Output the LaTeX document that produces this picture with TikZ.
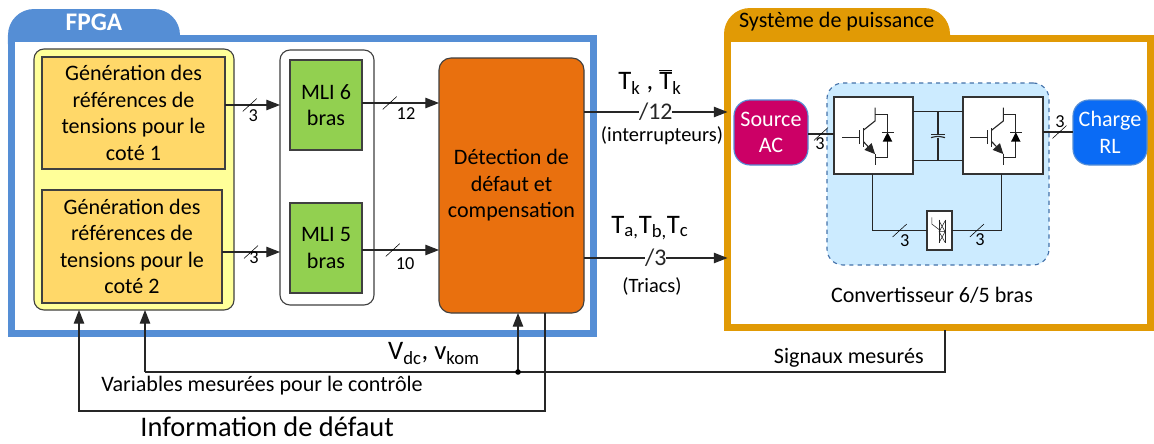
\documentclass[tikz,border=0pt]{standalone}
\usepackage{fontspec}
\setmainfont{Carlito}
\usetikzlibrary{arrows.meta, positioning}

\definecolor{fpgablue}{HTML}{558ED5}
\definecolor{powerorange}{HTML}{E19A05}
\definecolor{genyellow}{HTML}{FFFF99}
\definecolor{genorange}{HTML}{FFD869}
\definecolor{mligreen}{HTML}{92D050}
\definecolor{detectorange}{HTML}{E9700E}
\definecolor{convblue}{HTML}{CCEBFF}
\definecolor{sourcered}{HTML}{CC0066}
\definecolor{chargeblue}{HTML}{0A6BF5}

\begin{document}
\begin{tikzpicture}[
  box/.style = {draw=black!75, thick, anchor=north west, outer sep=0pt, inner sep=0pt, align=center},
  frame/.style = {box, line width=1.75mm},
  txt/.style = {font=\fontsize{15.7}{18.8}\selectfont},
  note/.style = {font=\fontsize{14.5}{16}\selectfont},
  small/.style = {font=\fontsize{13}{14}\selectfont},
  big/.style = {font=\fontsize{19}{20}\selectfont},
  bus/.style = {font=\fontsize{17}{18}\selectfont, fill=white, inner sep=0pt},
  cell/.style = {box, draw=black!80, fill=white},
  line/.style = {thick, black!85},
  arrow/.style = {line, -{Triangle[length=3.4mm, width=2.6mm]}},
  slash/.pic = {\draw[-, thin, black] (-0.175,-0.16) -- (0.175,0.16);},
  igbt/.pic = {
    \draw[line] (-0.825,0) -- (-0.39,0) (-0.39,-0.17) -- (-0.39,0.18);
    \draw[line] (-0.29,-0.24) -- (-0.29,0.23);
    \draw[line] (-0.29,0.18) -- (0,0.41) -- (0,0.74);
    \draw[line] (0,0.575) -- (0.31,0.575) -- (0.31,-0.51) -- (0,-0.51);
    \draw[line, -{Triangle[length=2.6mm, width=2.4mm]}] (-0.29,-0.11) -- (0,-0.42);
    \draw[line] (0,-0.42) -- (0,-0.69);
    \fill[black] (0.19,-0.11) -- (0.43,-0.11) -- (0.31,0.125) -- cycle;
    \draw[line] (0.17,0.125) -- (0.46,0.125);
  }
]

  \useasboundingbox (0,0) rectangle (28.85,-11.075);

  % Frames
  \fill[fpgablue] (0.2,-1.1) -- (0.2,-0.875) arc[start angle=180, end angle=90, radius=0.65] -- (3.85,-0.225) arc[start angle=90, end angle=0, radius=0.65] -- (4.5,-1.1) -- cycle;
  \fill[powerorange] (18.1,-1.1) -- (18.1,-0.85) arc[start angle=180, end angle=90, radius=0.65] -- (23.1,-0.2) arc[start angle=90, end angle=0, radius=0.65] -- (23.75,-1.1) -- cycle;
  \node[frame, draw=fpgablue, fill=white, minimum width=14.56cm, minimum height=7.375cm] (fpga) at (0.2875,-0.9625) {};
  \node[frame, draw=powerorange, fill=white, minimum width=10.575cm, minimum height=7.225cm] (power) at (18.1875,-0.9625) {};
  \node[text=white, font=\fontsize{18}{20}\selectfont\bfseries] (fpgatitle) at (2.35,-0.55) {FPGA};
  \node[txt] (powertitle) at (20.92,-0.55) {Système de puissance};

  % FPGA blocks
  \node[box, fill=genyellow, rounded corners=0.25cm, minimum width=5cm, minimum height=6.525cm] (gen) at (0.85,-1.225) {};
  \node[box, txt, fill=genorange, minimum width=4.575cm, minimum height=2.8cm] (gen1) at (1.05,-1.425) {Génération des\\références de\\tensions pour le\\coté 1};
  \node[box, txt, fill=genorange, minimum width=4.5cm, minimum height=2.825cm] (gen2) at (1.05,-4.75) {Génération des\\références de\\tensions pour le\\coté 2};
  \node[box, fill=white, rounded corners=0.25cm, minimum width=2.35cm, minimum height=6.375cm] (mli) at (7,-1.25) {};
  \node[box, txt, fill=mligreen, minimum width=1.8cm, minimum height=2.25cm] (mli6) at (7.25,-1.5) {MLI 6\\bras};
  \node[box, txt, fill=mligreen, minimum width=1.8cm, minimum height=2.25cm] (mli5) at (7.25,-5.075) {MLI 5\\bras};
  \node[box, txt, fill=detectorange, rounded corners=0.3cm, minimum width=3.625cm, minimum height=6.375cm] (detect) at (10.975,-1.45) {Détection de\\défaut et\\compensation};

  % Power blocks
  \node[box, txt, text=white, draw=fpgablue, fill=sourcered, rounded corners=0.4cm, minimum width=1.85cm, minimum height=1.625cm] (source) at (18.35,-2.5) {Source\\AC};
  \node[box, txt, text=white, draw=fpgablue, fill=chargeblue, rounded corners=0.4cm, minimum width=1.85cm, minimum height=1.625cm] (charge) at (26.825,-2.5) {Charge\\RL};
  \node[box, draw=fpgablue!80!black, dashed, fill=convblue, rounded corners=0.4cm, minimum width=5.55cm, minimum height=4.55cm] (conv) at (20.675,-2.075) {};
  \node[cell, minimum width=1.975cm, minimum height=1.925cm] (left) at (20.85,-2.425) {};
  \node[cell, minimum width=2cm, minimum height=1.925cm] (right) at (24.075,-2.425) {};
  \node[cell, minimum width=0.625cm, minimum height=0.975cm] (triac) at (23.175,-5.275) {};
  \node[txt] (convlabel) at (23.3,-7.375) {Convertisseur 6/5 bras};

  \path (left.center) ++(0.04,-0.045) pic {igbt};
  \path (right.center) ++(0.01,-0.045) pic {igbt};

  % Triac symbol
  \begin{scope}[shift={(triac.center)}]
    \draw[line, thin] (-0.19,0.33) -- (-0.19,0.16) -- (0.02,0);
    \draw[line, thin] (-0.01,0.27) -- (-0.01,-0.32) (0.14,0.27) -- (0.14,-0.32);
    \draw[line, thin] (-0.01,0.24) -- (0.14,-0.03) -- (-0.01,-0.03) -- (0.14,0.24);
    \draw[line, thin] (-0.01,-0.03) -- (0.14,-0.3) (0.14,-0.03) -- (-0.01,-0.3);
  \end{scope}

  % Converter wiring
  \draw[line] ([yshift=0.6cm]left.east) -- ([yshift=0.6cm]right.west);
  \draw[line] ([yshift=-0.625cm]left.east) -- ([yshift=-0.625cm]right.west);
  \coordinate (captop) at (23.45,-3.36);
  \coordinate (capbot) at (23.45,-3.44);
  \draw[line] ([yshift=0.6cm]captop |- left.east) -- (captop);
  \draw[line] (capbot) -- ([yshift=-0.625cm]capbot |- left.east);
  \draw[line] ([xshift=-0.175cm]captop) -- ([xshift=0.175cm]captop);
  \draw[line] ([xshift=-0.175cm]capbot) .. controls ([yshift=0.04cm]capbot) .. ([xshift=0.175cm]capbot);
  \draw[line] ([xshift=-0.03cm]left.south) |- pic[pos=0.75] {slash} (triac.west);
  \draw[line] (triac.east) -| pic[pos=0.25] {slash} ([xshift=-0.03cm]right.south);
  \draw[line] (source.east |- 0,-3.35) -- pic {slash} (left.west |- 0,-3.35);
  \draw[line] (right.east |- 0,-3.3) -- pic[pos=0.55] {slash} (charge.west |- 0,-3.3);
  \node[small] (n1) at (20.5,-3.6) {3};
  \node[small] (n2) at (26.5,-3.05) {3};
  \node[small] (n3) at (22.62,-6.02) {3};
  \node[small] (n4) at (24.5,-6) {3};

  % Connections in the FPGA
  \draw[arrow] (gen1.east |- 0,-2.625) -- pic[pos=0.45] {slash} (mli.west |- 0,-2.625);
  \draw[arrow] (gen2.east |- 0,-6.3) -- pic[pos=0.5] {slash} (mli.west |- 0,-6.3);
  \draw[arrow] (mli6.east |- 0,-2.575) -- pic[pos=0.36] {slash} (detect.west |- 0,-2.575);
  \draw[arrow] (mli5.east |- 0,-6.25) -- pic[pos=0.4] {slash} (detect.west |- 0,-6.25);
  \node[small] (n5) at (6.33,-2.9) {3};
  \node[small] (n6) at (6.35,-6.45) {3};
  \node[small] (n7) at (10.15,-2.83) {12};
  \node[small] (n8) at (10.13,-6.6) {10};

  % Outputs
  \draw[arrow] (detect.east |- 0,-2.8) -- node[bus] (bus12) {/12} (power.west |- 0,-2.8);
  \draw[arrow] (detect.east |- 0,-6.45) -- node[bus] (bus3) {/3} (power.west |- 0,-6.45);
  \node[big] (tk) at (16.25,-2.05) {T\textsubscript{k} , $\overline{\mbox{T}}$\textsubscript{k}};
  \node[note] (switches) at (16.55,-3.4) {(interrupteurs)};
  \node[big] (tabc) at (16.25,-5.7) {T\textsubscript{a,}T\textsubscript{b,}T\textsubscript{c}};
  \node[note] (triacs) at (16.3,-7.17) {(Triacs)};

  % Measures and fault information
  \coordinate (junction) at (12.95,-9.3);
  \draw[line] (23.625,-8.25) |- (3.625,-9.3) coordinate (ctrl);
  \draw[arrow] (ctrl) -- (ctrl |- gen.south);
  \draw[arrow] (junction) -- (junction |- detect.south);
  \fill[black] (junction) circle (0.07);
  \draw[arrow] (13.625,-7.825) |- (1.975,-10.275) -- (1.975,-7.75);
  \node[txt] (measured) at (21.22,-8.95) {Signaux mesurés};
  \node[txt] (vars) at (6.55,-9.63) {Variables mesurées pour le contrôle};
  \node[big] (vdc) at (10.85,-8.83) {V\textsubscript{dc}, v\textsubscript{kom}};
  \node[font=\fontsize{20.2}{22}\selectfont, inner sep=0pt] (info) at (6.68,-10.68) {Information de défaut};

\end{tikzpicture}
\end{document}
